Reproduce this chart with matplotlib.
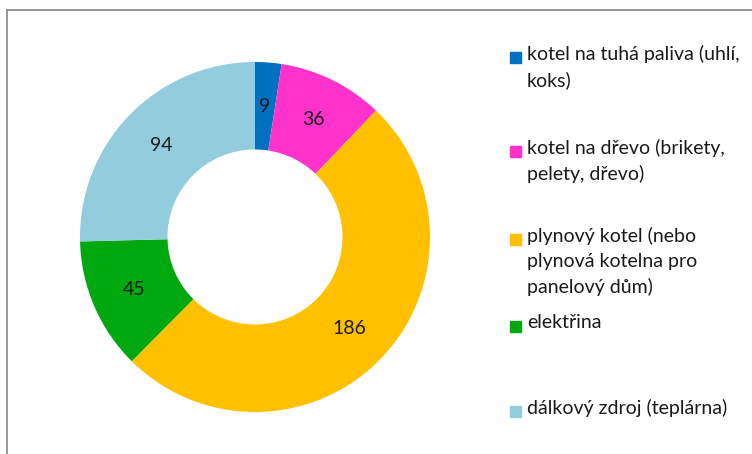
import matplotlib.pyplot as plt
from matplotlib.patches import Rectangle
from matplotlib.lines import Line2D

# data
labels = ["kotel na tuhá paliva (uhlí,\nkoks)",
          "kotel na dřevo (brikety,\npelety, dřevo)",
          "plynový kotel (nebo\nplynová kotelna pro\npanelový dům)",
          "elektřina",
          "dálkový zdroj (teplárna)"]
values = [9, 36, 186, 45, 94]
colors = ["#0070C0", "#FF33CC", "#FFC000", "#00A80F", "#93CDDD"]

plt.rcParams['font.family'] = ['Lato', 'DejaVu Sans']

W, H = 752, 454
fig = plt.figure(figsize=(W / 100, H / 100), dpi=100)

# donut
ax = fig.add_axes([80 / W, 42 / H, 350 / W, 350 / H])
wedges, texts, autotexts = ax.pie(values, colors=colors, startangle=90, counterclock=False,
                                  wedgeprops=dict(width=0.5, linewidth=0),
                                  autopct=lambda p: "%d" % round(p * sum(values) / 100),
                                  pctdistance=0.75,
                                  textprops=dict(fontsize=14, color="#1a1a1a"))
ax.set_aspect('equal')
ax.set_xlim(-1, 1)
ax.set_ylim(-1, 1)
ax.axis('off')

# legend drawn by hand (first line centre y in pixels)
leg_y = [57, 151, 239, 326, 411]
for lab, c, y in zip(labels, colors, leg_y):
    fig.patches.append(Rectangle((510 / W, 1 - (y + 6) / H), 11 / W, 11 / H,
                                 transform=fig.transFigure, color=c))
    fig.text(527 / W, 1 - (y - 12) / H, lab, fontsize=14, color="#1a1a1a",
             va='top', ha='left', linespacing=1.55)

# chart frame (only top and left visible)
fig.lines.append(Line2D([7 / W, 1], [1 - 10 / H, 1 - 10 / H], transform=fig.transFigure,
                        color="#868686", lw=1.2))
fig.lines.append(Line2D([7 / W, 7 / W], [0, 1 - 10 / H], transform=fig.transFigure,
                        color="#868686", lw=1.2))

fig.savefig("out.png", dpi=100)
